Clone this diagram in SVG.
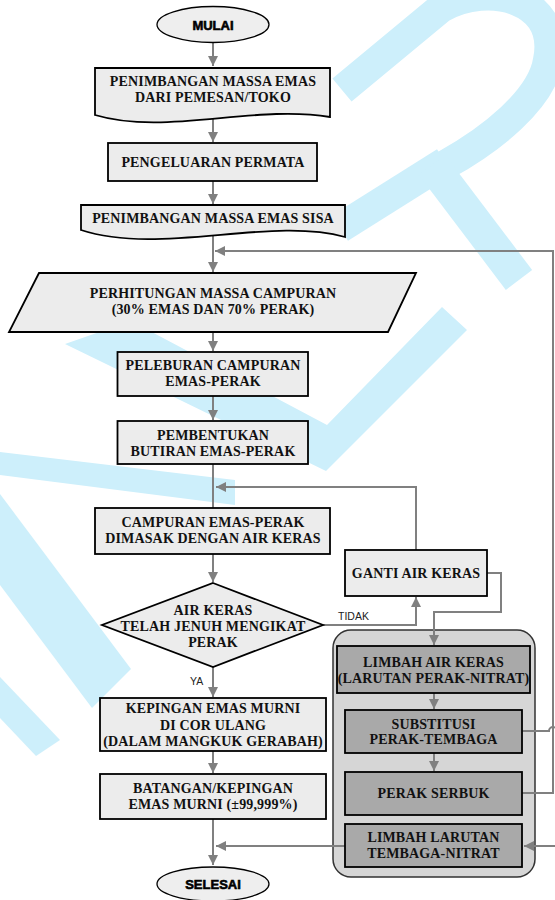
<svg xmlns="http://www.w3.org/2000/svg" width="555" height="900" viewBox="0 0 555 900">
<defs>
<style>
.wm{fill:#cdeffb;stroke:none}
.wms{fill:none;stroke:#cdeffb}
.box{fill:#ececec;stroke:#000;stroke-width:1.8}
.dbox{fill:#a9a9a9;stroke:#000;stroke-width:1.8}
.term{fill:#eeeeee;stroke:#000;stroke-width:1.3}
.t{font-family:"Liberation Serif",serif;font-weight:bold;font-size:14px;letter-spacing:0.15px;fill:#111;text-anchor:middle}
.ts{font-family:"Liberation Sans",Arial,sans-serif;font-weight:bold;font-size:13px;fill:#000;text-anchor:middle;stroke:#000;stroke-width:0.6}
.lbl{font-family:"Liberation Sans",Arial,sans-serif;font-size:10.5px;fill:#222}
.c{fill:none;stroke:#808080;stroke-width:2}
.ca{fill:none;stroke:#808080;stroke-width:2;marker-end:url(#ah)}
</style>
<marker id="ah" markerUnits="userSpaceOnUse" markerWidth="10" markerHeight="10" refX="10" refY="5" orient="auto">
<path d="M0,0 L10,5 L0,10 z" fill="#808080"/>
</marker>
</defs>

<g id="watermark">
<polygon class="wm" points="65,344 131,321 327,425 442,307 467,330 326,471"/>
<path class="wms" stroke-width="30" d="M342,90 L441,8 C490,-20 560,0 548,60 C542,100 490,140 445,165"/>
<path class="wms" stroke-width="30" d="M340,228 L445,162"/>
<path class="wms" stroke-width="33" d="M432,165 L519,280"/>
<polygon class="wm" points="0,452 235,480 235,505 0,475"/>
<polygon class="wm" points="0,494 131,669 92,708 0,585"/>
<polygon class="wm" points="0,677 60,740 36,756 0,718"/>
</g>

<g id="pengolahan-limbah">
<rect x="333" y="630" width="202" height="247" rx="18" ry="18" fill="#d6d6d6" stroke="#333" stroke-width="1.5"/>
</g>

<g id="connectors">
<path class="ca" d="M213,43 V66"/>
<path class="ca" d="M213,119 V142"/>
<path class="ca" d="M213,181 V204"/>
<path class="ca" d="M213,236 V272"/>
<path class="ca" d="M522,793 H553 V251 H215"/>
<path class="ca" d="M213,332 V351"/>
<path class="ca" d="M213,396 V420"/>
<path class="c" d="M213,464 V508"/>
<path class="ca" d="M416,550 V487 H216"/>
<path class="ca" d="M213,554 V582"/>
<path class="ca" d="M323,625 H416 V597"/>
<path class="ca" d="M487,573 H501 V612 H434 V645"/>
<path class="ca" d="M434,693 V709"/>
<path class="ca" d="M434,753 V771"/>
<path class="ca" d="M522,731 H549 a4,4 0 0 1 8,0 H575 V846 H524"/>
<path class="ca" d="M345,846 H216"/>
<path class="ca" d="M213,667 V697"/>
<path class="ca" d="M213,751 V773"/>
<path class="ca" d="M213,819 V865"/>
<text class="lbl" x="338" y="620">TIDAK</text>
<text class="lbl" x="190" y="685">YA</text>
</g>

<g id="mulai">
<ellipse class="term" cx="213" cy="24.5" rx="56" ry="18"/>
<text class="ts" x="213" y="29.5">MULAI</text>
</g>

<g id="penimbangan1">
<path class="box" d="M95,68 H330 V117 C255,104 165,136 95,115 Z"/>
<text class="t" x="213" y="86">PENIMBANGAN MASSA EMAS</text>
<text class="t" x="213" y="102">DARI PEMESAN/TOKO</text>
</g>

<g id="pengeluaran">
<rect class="box" x="108" y="143" width="209" height="38"/>
<text class="t" x="213" y="167">PENGELUARAN PERMATA</text>
</g>

<g id="penimbangan2">
<path class="box" d="M81,205 H345 V237 C270,216 160,256 81,230 Z"/>
<text class="t" x="213" y="223">PENIMBANGAN MASSA EMAS SISA</text>
</g>

<g id="perhitungan">
<polygon class="box" points="39,273 416,273 388,332 9,332"/>
<text class="t" x="213" y="298">PERHITUNGAN MASSA CAMPURAN</text>
<text class="t" x="213" y="314">(30% EMAS DAN 70% PERAK)</text>
</g>

<g id="peleburan">
<rect class="box" x="117.5" y="352" width="190.5" height="44"/>
<text class="t" x="213" y="370">PELEBURAN CAMPURAN</text>
<text class="t" x="213" y="386">EMAS-PERAK</text>
</g>

<g id="pembentukan">
<rect class="box" x="117.5" y="421" width="190.5" height="43"/>
<text class="t" x="213" y="439.5">PEMBENTUKAN</text>
<text class="t" x="213" y="455.5">BUTIRAN EMAS-PERAK</text>
</g>

<g id="campuran">
<rect class="box" x="95" y="508" width="235" height="46"/>
<text class="t" x="213" y="527">CAMPURAN EMAS-PERAK</text>
<text class="t" x="213" y="543">DIMASAK DENGAN AIR KERAS</text>
</g>

<g id="keputusan">
<polygon class="box" points="213,583 323,625 213,667 102,625"/>
<text class="t" x="213" y="615">AIR KERAS</text>
<text class="t" x="213" y="631">TELAH JENUH MENGIKAT</text>
<text class="t" x="213" y="647">PERAK</text>
</g>

<g id="ganti">
<rect class="box" x="345" y="550" width="142" height="46"/>
<text class="t" x="416" y="578">GANTI AIR KERAS</text>
</g>

<g id="kepingan">
<rect class="box" x="100" y="698" width="226" height="53"/>
<text class="t" x="213" y="713">KEPINGAN EMAS MURNI</text>
<text class="t" x="213" y="729.5">DI COR ULANG</text>
<text class="t" x="213" y="746">(DALAM MANGKUK GERABAH)</text>
</g>

<g id="batangan">
<rect class="box" x="100" y="774" width="226" height="45"/>
<text class="t" x="213" y="792.5">BATANGAN/KEPINGAN</text>
<text class="t" x="213" y="808.5">EMAS MURNI (±99,999%)</text>
</g>

<g id="selesai">
<ellipse class="term" cx="213" cy="884" rx="56" ry="17"/>
<text class="ts" x="213" y="888.5">SELESAI</text>
</g>

<g id="limbah-air-keras">
<rect class="dbox" x="337" y="646" width="193" height="47"/>
<text class="t" x="433.5" y="666.5">LIMBAH AIR KERAS</text>
<text class="t" x="433.5" y="682.5">(LARUTAN PERAK-NITRAT)</text>
</g>

<g id="substitusi">
<rect class="dbox" x="345" y="710" width="177" height="43"/>
<text class="t" x="433.5" y="728.5">SUBSTITUSI</text>
<text class="t" x="433.5" y="744">PERAK-TEMBAGA</text>
</g>

<g id="perak-serbuk">
<rect class="dbox" x="345" y="772" width="177" height="43"/>
<text class="t" x="433.5" y="797.5">PERAK SERBUK</text>
</g>

<g id="limbah-tembaga">
<rect class="dbox" x="345" y="824" width="177" height="43"/>
<text class="t" x="433.5" y="842">LIMBAH LARUTAN</text>
<text class="t" x="433.5" y="858">TEMBAGA-NITRAT</text>
</g>
</svg>
